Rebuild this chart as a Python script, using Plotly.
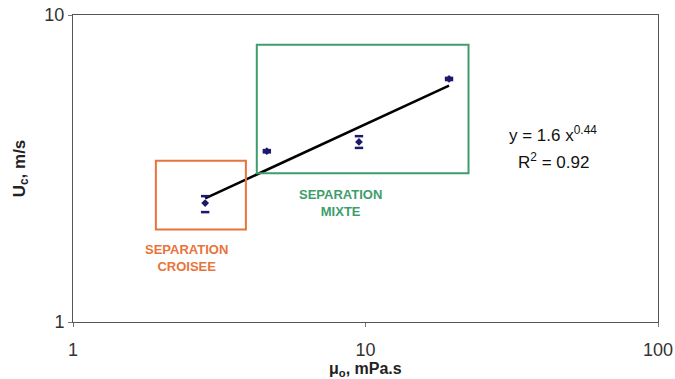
import plotly.graph_objects as go
import math

# Data
mu_o = [2.83, 4.6, 9.5, 19.3]
u_c = [2.44, 3.6, 3.86, 6.19]
err_plus = [0.13, 0.03, 0.17, 0.05]
err_minus = [0.16, 0.03, 0.17, 0.05]
fit_a = 1.6
fit_b = 0.44

fit_x = [min(mu_o), max(mu_o)]
fit_y = [fit_a * v ** fit_b for v in fit_x]
cap_x = mu_o + mu_o
cap_y = [u + e for u, e in zip(u_c, err_plus)] + [u - e for u, e in zip(u_c, err_minus)]

navy = "#1E1A6B"
orange = "#E8743B"
green = "#3E9E6B"
font = "Liberation Sans, Arial, sans-serif"

fig = go.Figure()
fig.add_trace(go.Scatter(
    x=fit_x, y=fit_y, mode="lines",
    line=dict(color="black", width=2.5), showlegend=False, hoverinfo="skip"))
fig.add_trace(go.Scatter(
    x=cap_x, y=cap_y, mode="markers",
    marker=dict(symbol="line-ew", size=6, line=dict(color=navy, width=2.5)),
    showlegend=False, hoverinfo="skip"))
fig.add_trace(go.Scatter(
    x=mu_o, y=u_c, mode="markers",
    marker=dict(symbol="diamond", size=6, color=navy),
    showlegend=False))

# Boxes (shapes on log axes take data values)
def box(x0, x1, y0, y1, color):
    fig.add_shape(type="rect", xref="x", yref="y",
                  x0=x0, x1=x1, y0=y0, y1=y1,
                  line=dict(color=color, width=2), fillcolor="rgba(0,0,0,0)")

box(1.92, 3.9, 2.0, 3.35, orange)
box(4.25, 22.5, 3.05, 8.0, green)

fig.add_annotation(x=math.log10(2.45), y=math.log10(1.62), xref="x", yref="y",
                   text="<b>SEPARATION<br>CROISEE</b>", showarrow=False,
                   font=dict(family=font, size=13, color=orange))
fig.add_annotation(x=math.log10(8.2), y=math.log10(2.44), xref="x", yref="y",
                   text="<b>SEPARATION<br>MIXTE</b>", showarrow=False,
                   font=dict(family=font, size=13, color=green))
fig.add_annotation(x=math.log10(43.8), y=math.log10(4.1), xref="x", yref="y",
                   text="y = 1.6 x<sup>0.44</sup>", showarrow=False,
                   font=dict(family=font, size=17, color="#111111"))
fig.add_annotation(x=math.log10(43.8), y=math.log10(3.35), xref="x", yref="y",
                   text="R<sup>2</sup> = 0.92", showarrow=False,
                   font=dict(family=font, size=17, color="#111111"))
fig.add_annotation(x=0.5, y=0, xref="paper", yref="paper", yanchor="middle", yshift=-47,
                   text="<b>μ<sub>o</sub>, mPa.s</b>", showarrow=False,
                   font=dict(family=font, size=16, color="#222222"))

fig.update_xaxes(type="log", range=[0, 2], tickvals=[1, 10, 100], ticktext=["1", "10", "100"],
                 showgrid=False, showline=True, linecolor="#555555", linewidth=1, mirror=True,
                 ticks="outside", ticklen=4, tickcolor="#777777", automargin=False,
                 ticklabelstandoff=7, ticklabeloverflow="allow",
                 tickfont=dict(family=font, size=18, color="#333333"))
fig.update_yaxes(type="log", range=[0, 1], tickvals=[1, 10], ticktext=["1", "10"],
                 showgrid=False, showline=True, linecolor="#555555", linewidth=1, mirror=True,
                 ticks="outside", ticklen=4, tickcolor="#777777", automargin=False,
                 ticklabeloverflow="allow",
                 tickfont=dict(family=font, size=18, color="#333333"),
                 title=dict(text="<b>U<sub>c</sub>, m/s</b>", standoff=14,
                            font=dict(family=font, size=17, color="#222222")))

fig.update_layout(width=675, height=379, margin=dict(l=73, r=17, t=15, b=57),
                  plot_bgcolor="white", paper_bgcolor="white", font=dict(family=font))

fig.write_html("out.html", config={"displayModeBar": False},
               post_script="document.body.style.margin='0';document.body.style.overflow='hidden';")
